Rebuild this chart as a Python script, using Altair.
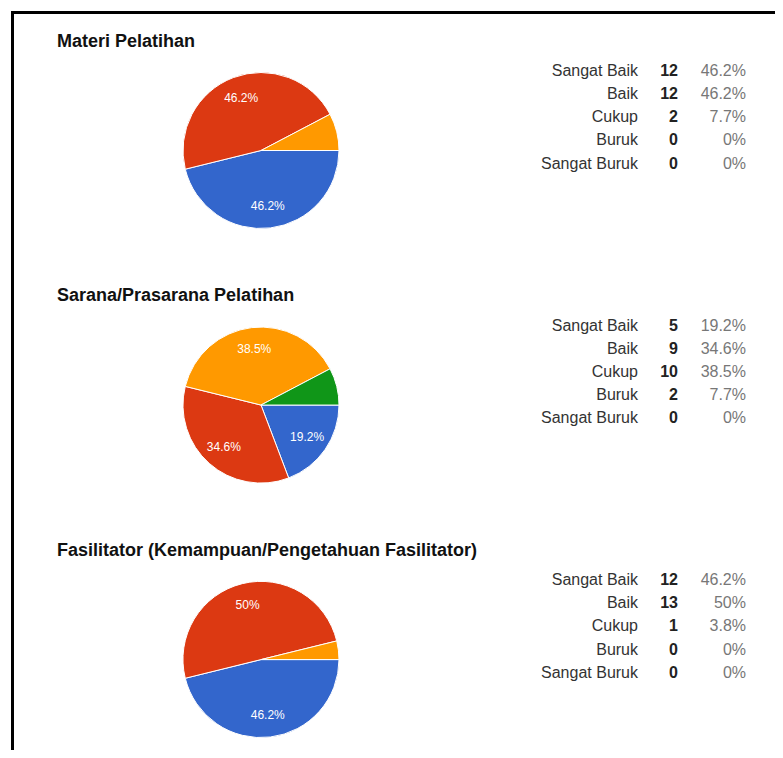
import math
import altair as alt
import pandas as pd

# ---- data ----
categories = ["Sangat Baik", "Baik", "Cukup", "Buruk", "Sangat Buruk"]
colors = ["#3366CC", "#DC3912", "#FF9900", "#109618", "#990099"]
titles = [
    "Materi Pelatihan",
    "Sarana/Prasarana Pelatihan",
    "Fasilitator (Kemampuan/Pengetahuan Fasilitator)",
]
counts_materi = [12, 12, 2, 0, 0]
counts_sarana = [5, 9, 10, 2, 0]
counts_fasilitator = [12, 13, 1, 0, 0]
pct_materi = ["46.2%", "46.2%", "7.7%", "0%", "0%"]
pct_sarana = ["19.2%", "34.6%", "38.5%", "7.7%", "0%"]
pct_fasilitator = ["46.2%", "50%", "3.8%", "0%", "0%"]

all_counts = [counts_materi, counts_sarana, counts_fasilitator]
all_pcts = [pct_materi, pct_sarana, pct_fasilitator]

rows = []
for p, (cs, ps) in enumerate(zip(all_counts, all_pcts)):
    for r, (cat, n, pc) in enumerate(zip(categories, cs, ps)):
        rows.append({"panel": p, "row": r, "cat": cat, "n": n, "pct": pc})
df = pd.DataFrame(rows)
df_titles = pd.DataFrame({"panel": [0, 1, 2], "title": titles})

# ---- layout constants ----
W, H = 767, 742
STRIDE = 11          # row slots per panel
PIE_SLOT = 3.22      # pie centre, in row slots from panel's first table row
TITLE_SLOT = -1.27   # title baseline
FONT = "Liberation Sans, Arial, sans-serif"

yscale = alt.Scale(domain=[0, 26], range=[68, 68 + 26 * 23.14])
tscale = alt.Scale(domain=[0, 1], range=[math.pi / 2, math.pi / 2 + 2 * math.pi])
cscale = alt.Scale(domain=categories, range=colors)


def Y():
    return alt.Y("slot:Q", scale=yscale, axis=None, stack=None)


pie_base = (
    alt.Chart(df)
    .transform_filter("datum.n > 0")
    .transform_joinaggregate(total="sum(n)", groupby=["panel"])
    .transform_window(cum="sum(n)", groupby=["panel"], sort=[alt.SortField("row")], frame=[None, 0])
    .transform_calculate(f1="datum.cum / datum.total")
    .transform_calculate(f0="(datum.cum - datum.n) / datum.total")
    .transform_calculate(mid="(datum.f0 + datum.f1) / 2")
    .transform_calculate(slot=f"datum.panel * {STRIDE} + {PIE_SLOT}")
)

arcs = pie_base.mark_arc(radius=78, stroke="white", strokeWidth=1).encode(
    x=alt.value(253),
    y=Y(),
    theta=alt.Theta("f0:Q", scale=tscale, stack=None),
    theta2="f1:Q",
    color=alt.Color("cat:N", scale=cscale, legend=None),
)

pie_labels = (
    pie_base.transform_filter("datum.n / datum.total >= 0.1")
    .mark_text(font=FONT, fontSize=12, color="white", align="center", baseline="middle")
    .encode(
        x=alt.value(253),
        y=Y(),
        theta=alt.Theta("mid:Q", scale=tscale, stack=None),
        radius=alt.value(56),
        text="pct:N",
    )
)

titles_layer = (
    alt.Chart(df_titles)
    .transform_calculate(slot=f"datum.panel * {STRIDE} + ({TITLE_SLOT})")
    .mark_text(font=FONT, fontSize=18, fontWeight="bold", color="#111", align="left", baseline="alphabetic")
    .encode(x=alt.value(49), y=Y(), text="title:N")
)

table_base = alt.Chart(df).transform_calculate(slot=f"datum.panel * {STRIDE} + datum.row")

tbl_labels = table_base.mark_text(
    font=FONT, fontSize=16, color="#333", align="right", baseline="alphabetic"
).encode(x=alt.value(630), y=Y(), text="cat:N")

tbl_counts = table_base.mark_text(
    font=FONT, fontSize=16, fontWeight="bold", color="#222", align="right", baseline="alphabetic"
).encode(x=alt.value(670), y=Y(), text="n:Q")

tbl_pcts = table_base.mark_text(
    font=FONT, fontSize=16, color="#777", align="right", baseline="alphabetic"
).encode(x=alt.value(738), y=Y(), text="pct:N")

one = pd.DataFrame({"a": [0]})
frame_top = alt.Chart(one).mark_rule(color="black", strokeWidth=3).encode(
    x=alt.value(3), x2=alt.value(W), y=alt.value(4.5)
)
frame_left = alt.Chart(one).mark_rule(color="black", strokeWidth=3).encode(
    x=alt.value(4.5), y=alt.value(3), y2=alt.value(H)
)

chart = (
    alt.layer(arcs, pie_labels, titles_layer, tbl_labels, tbl_counts, tbl_pcts, frame_top, frame_left)
    .properties(width=W, height=H, autosize=alt.AutoSizeParams(type="none"), padding=0, background="white")
    .configure_view(stroke=None)
)

chart.save("out.html", embed_options={"renderer": "svg", "actions": False})
